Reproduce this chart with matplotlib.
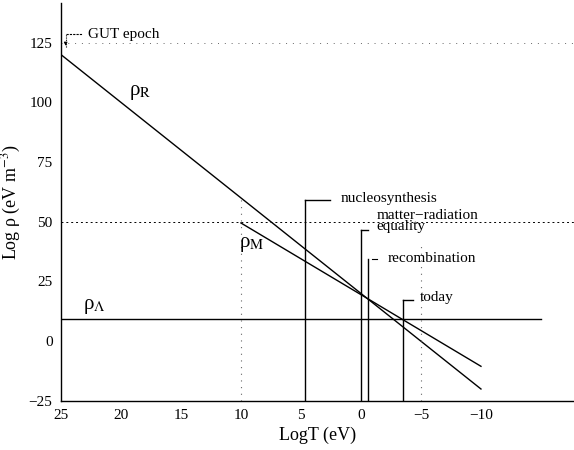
import numpy as np
import matplotlib
matplotlib.use('Agg')
import matplotlib.pyplot as plt

plt.rcParams['font.family'] = ['Liberation Serif', 'DejaVu Serif']
plt.rcParams['mathtext.fontset'] = 'stix'

# log T (eV) at the ends of each density line
logT_R = [25, -10]
rho_R = [120, -20]
logT_M = [10, -10]
rho_M = [49.5, -10.5]
logT_L = [25, -15]
rho_L = [9.5, 9.5]

# epochs
event_names = ['nucleosynthesis', 'matter\u2212radiation\nequality', 'recombination', 'today']
event_T = [4.67, 0.0, -0.58, -3.5]
event_top = [59, 46.5, 34.4, 17.3]

xticks = [25, 20, 15, 10, 5, 0, -5, -10]
yticks = [125, 100, 75, 50, 25, 0, -25]

fig = plt.figure(figsize=(5.74, 4.5), dpi=100)
ax = fig.add_axes([0.106, 0.109, 0.894, 0.884])

ax.plot(logT_R, rho_R, 'k', lw=1.0)
ax.plot(logT_M, rho_M, 'k', lw=1.0)
ax.plot(logT_L, rho_L, 'k', lw=1.0)

# dotted guide lines
ax.axhline(50, color='k', ls=(0, (2, 3)), lw=0.7)
ax.axhline(125, color='0.4', ls=(0, (1, 6)), lw=0.7)
ax.plot([10, 10], [-25, 61], color='0.4', ls=(0, (1, 5)), lw=0.8)
ax.plot([-5, -5], [-25, 42], color='0.4', ls=(0, (1, 5)), lw=0.8)

# event markers
for T, top in zip(event_T, event_top):
    ax.plot([T, T], [-25, top], 'k', lw=1.0)

fs = 11
ax.plot([4.67, 2.58], [59, 59], 'k', lw=1.0)
ax.text(1.67, 59.9, event_names[0], fontsize=fs, va='center', ha='left')
ax.plot([0.0, -0.58], [46.5, 46.5], 'k', lw=1.0)
ax.text(-1.3, 50.5, event_names[1], fontsize=fs, va='center',
        ha='left', linespacing=0.8)
ax.plot([-0.9, -1.3], [34.4, 34.4], 'k', lw=0.8)
ax.text(-2.25, 34.6, event_names[2], fontsize=fs, va='center', ha='left')
ax.plot([-3.5, -4.33], [17.3, 17.3], 'k', lw=1.0)
ax.text(-4.9, 18.5, event_names[3], fontsize=fs, va='center', ha='left')

# GUT epoch
ax.plot([24.6, 24.6], [123, 128.6], color='k', ls=(0, (1, 1)), lw=0.8)
ax.plot([24.6, 23.2], [128.6, 128.6], color='k', ls=(0, (2, 1)), lw=0.8)
ax.annotate('', xy=(24.6, 122.5), xytext=(24.6, 126),
            arrowprops=dict(arrowstyle='-|>', lw=0.6, color='k', mutation_scale=5))
ax.text(22.75, 128.2, 'GUT epoch', fontsize=fs, va='center', ha='left')

ax.text(18.4, 104.3, '\u03c1$_\\mathrm{R}$', fontsize=15, ha='center', va='center')
ax.text(9.1, 40.3, '\u03c1$_\\mathrm{M}$', fontsize=15, ha='center', va='center')
ax.text(22.2, 14.7, '\u03c1$_\\mathrm{\\Lambda}$', fontsize=15, ha='center', va='center')

ax.set_xlim(25, -17.75)
ax.set_ylim(-25, 141.5)
ax.set_xticks(xticks)
ax.set_xticklabels([str(t).replace('-', '\u2212') for t in xticks], fontsize=11)
ax.set_yticks(yticks)
ax.set_yticklabels([str(t).replace('-', '\u2212') for t in yticks], fontsize=11)
ax.tick_params(length=0, pad=6)
for s in ['top', 'right']:
    ax.spines[s].set_visible(False)
for s in ['left', 'bottom']:
    ax.spines[s].set_linewidth(1.0)

ax.set_xlabel('LogT (eV)', fontsize=13, labelpad=3)
ax.set_ylabel('Log \u03c1 (eV m$^{-3}$)', fontsize=13, labelpad=4)

fig.savefig('out.png', dpi=100)
